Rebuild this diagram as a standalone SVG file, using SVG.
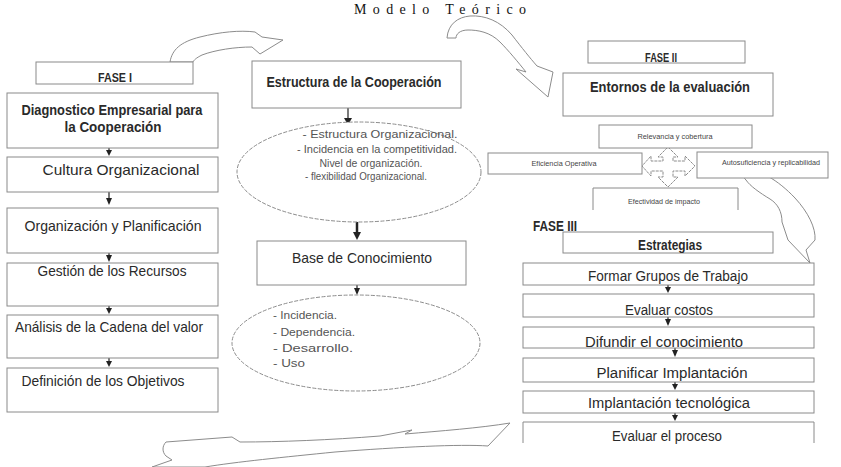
<svg xmlns="http://www.w3.org/2000/svg" width="841" height="467" viewBox="0 0 841 467">
<style>
.bx{fill:#fff;stroke:#8a8a8a;stroke-width:1}
.sd{fill:none;stroke:#8a8a8a;stroke-width:1}
.t{font-family:"Liberation Sans",Arial,sans-serif;fill:#2a2a2a}
.c{text-anchor:middle}
.b{font-weight:bold}
.m{font-size:15px}
.sm{font-size:11px;fill:#555}
.xs{font-size:8px;fill:#444}
.cv{fill:#fff;stroke:#8c8c8c;stroke-width:1;stroke-linejoin:round}
.el{fill:#fff;stroke:#8c8c8c;stroke-width:1;stroke-dasharray:4 1.5}
.ah{fill:#222}
.ln{stroke:#222;stroke-width:1.2}
</style>
<rect width="841" height="467" fill="#fff"/>
<text x="440" y="13.5" font-family="'Liberation Serif',serif" font-size="14" fill="#111" text-anchor="middle" textLength="172" lengthAdjust="spacing">Modelo Teórico</text>

<g id="connectors">
  <path class="cv" d="M170,62 C172,50 180,42 200,37 C220,32 240,30 255,32 L262,37 L283,40 L260,54 L252,47 C235,47 215,50 202,55 C196,58 194,60 193,62 Z"/>
  <path class="cv" d="M447,38 C448,24 458,17 470,16 C485,15 500,21 512,35 C522,48 530,58 537,66 L553,72 L548,97 L516,69 L526,72 C518,62 508,50 500,42 C490,32 478,30 468,30 C460,30 456,34 456,38 Z"/>
  <path class="cv" d="M745,171 C758,168 778,180 795,198 C808,212 816,228 815,240 L806,250 L810,263 L788,240 L782,222 C782,212 778,204 770,199 C760,193 750,186 746,180 C742,176 742,173 745,171 Z"/>
  <path class="cv" d="M510,423 C480,428 440,431 405,434 L412,430 L380,436 C330,440 280,442 240,442 L232,437 L166,442 C162,446 162,452 166,456 L172,460 L152,467 L205,467 C235,462 285,457 335,452 C400,447 460,444 488,446 Z"/>
  <path class="cv" d="M668,147 L678,157 L673,157 L673,161 L685,161 L685,156 L695,166 L685,176 L685,171 L673,171 L673,177 L678,177 L668,187 L658,177 L663,177 L663,171 L651,171 L651,176 L642,166 L651,156 L651,161 L663,161 L663,157 L658,157 Z" stroke-dasharray="3 1"/>
  <g>
    <line class="ln" x1="109" y1="148" x2="109" y2="151"/><path class="ah" d="M106,150 L112,150 L109,156 Z"/>
    <line class="ln" x1="109" y1="192" x2="109" y2="199"/><path class="ah" d="M106,198 L112,198 L109,205 Z"/>
    <line class="ln" x1="109" y1="253" x2="109" y2="256"/><path class="ah" d="M106,255 L112,255 L109,262 Z"/>
    <line class="ln" x1="109" y1="306" x2="109" y2="308"/><path class="ah" d="M106,308 L112,308 L109,314 Z"/>
    <line class="ln" x1="109" y1="358" x2="109" y2="361"/><path class="ah" d="M106,361 L112,361 L109,367 Z"/>
    <line class="ln" x1="348" y1="108" x2="348" y2="119"/><path class="ah" d="M344,118 L352,118 L348,125 Z"/>
    <line x1="357" y1="221" x2="357" y2="233" stroke="#222" stroke-width="2.5"/><path class="ah" d="M353,232 L361,232 L357,240 Z"/>
    <line class="ln" x1="357" y1="285" x2="357" y2="288"/><path class="ah" d="M354,288 L360,288 L357,295 Z"/>
    <line class="ln" x1="668" y1="285" x2="668" y2="288"/><path class="ah" d="M665,287 L671,287 L668,293 Z"/>
    <line class="ln" x1="668" y1="317" x2="668" y2="320"/><path class="ah" d="M665,319 L671,319 L668,326 Z"/>
    <line class="ln" x1="675" y1="348" x2="675" y2="351"/><path class="ah" d="M672,350 L678,350 L675,357 Z"/>
    <line class="ln" x1="675" y1="382" x2="675" y2="385"/><path class="ah" d="M672,384 L678,384 L675,390 Z"/>
    <line class="ln" x1="675" y1="413" x2="675" y2="416"/><path class="ah" d="M672,415 L678,415 L675,421 Z"/>
  </g>
</g>

<g id="fase1"><rect class="bx" x="36" y="62" width="157" height="22"/><text class="t b c" x="115" y="82" font-size="12" textLength="34" lengthAdjust="spacingAndGlyphs">FASE I</text></g>
<g id="diagnostico"><rect class="bx" x="7" y="93" width="211" height="55"/>
  <text class="t b c" x="112" y="115" font-size="14" textLength="181" lengthAdjust="spacingAndGlyphs">Diagnostico Empresarial para</text>
  <text class="t b c" x="113" y="132" font-size="14" textLength="97" lengthAdjust="spacingAndGlyphs">la Cooperación</text></g>
<g id="cultura"><rect class="bx" x="7" y="157" width="211" height="35"/><text class="t m c" x="121" y="175" textLength="157" lengthAdjust="spacingAndGlyphs">Cultura Organizacional</text></g>
<g id="organizacion"><rect class="bx" x="7" y="208" width="211" height="45"/><text class="t m c" x="113" y="231" textLength="177" lengthAdjust="spacingAndGlyphs">Organización y Planificación</text></g>
<g id="gestion"><rect class="bx" x="7" y="263" width="211" height="43"/><text class="t m c" x="112" y="276" textLength="149" lengthAdjust="spacingAndGlyphs">Gestión de los Recursos</text></g>
<g id="analisis"><rect class="bx" x="7" y="315" width="211" height="43"/><text class="t m c" x="109" y="332" textLength="188" lengthAdjust="spacingAndGlyphs">Análisis de la Cadena del valor</text></g>
<g id="definicion"><rect class="bx" x="7" y="368" width="211" height="44"/><text class="t m c" x="103" y="386" textLength="163" lengthAdjust="spacingAndGlyphs">Definición de los Objetivos</text></g>

<g id="estructura"><rect class="bx" x="252" y="61" width="209" height="47"/><text class="t b m c" x="354" y="87" textLength="175" lengthAdjust="spacingAndGlyphs">Estructura de la Cooperación</text></g>
<g id="elipse1"><ellipse class="el" cx="359" cy="172" rx="122" ry="50"/>
  <text class="t sm c" x="380" y="138" textLength="155" lengthAdjust="spacingAndGlyphs">- Estructura Organizacional.</text>
  <text class="t sm c" x="377" y="153" textLength="160" lengthAdjust="spacingAndGlyphs">- Incidencia en la competitividad.</text>
  <text class="t sm c" x="371" y="167" textLength="103" lengthAdjust="spacingAndGlyphs">Nivel de organización.</text>
  <text class="t sm c" x="366" y="180" textLength="122" lengthAdjust="spacingAndGlyphs">- flexibilidad Organizacional.</text></g>
<g id="base"><rect class="bx" x="257" y="241" width="209" height="44"/><text class="t m c" x="362" y="263" textLength="140" lengthAdjust="spacingAndGlyphs">Base de Conocimiento</text></g>
<g id="elipse2"><ellipse class="el" cx="356" cy="343" rx="124" ry="48"/>
  <text class="t sm" x="273" y="319" textLength="64" lengthAdjust="spacingAndGlyphs">- Incidencia.</text>
  <text class="t sm" x="273" y="336" textLength="82" lengthAdjust="spacingAndGlyphs">- Dependencia.</text>
  <text class="t sm" x="273" y="352" textLength="80" lengthAdjust="spacingAndGlyphs">- Desarrollo.</text>
  <text class="t sm" x="273" y="367" textLength="32" lengthAdjust="spacingAndGlyphs">- Uso</text></g>

<g id="fase2"><rect class="bx" x="588" y="41" width="157" height="22"/><text class="t b c" x="661" y="62" font-size="12" textLength="32" lengthAdjust="spacingAndGlyphs">FASE II</text></g>
<g id="entornos"><rect class="bx" x="563" y="73" width="210" height="43"/><text class="t b m c" x="670" y="92" textLength="160" lengthAdjust="spacingAndGlyphs">Entornos de la evaluación</text></g>
<g id="relevancia"><rect class="bx" x="599" y="125" width="153" height="23"/><text class="t xs c" x="675" y="139" textLength="75" lengthAdjust="spacingAndGlyphs">Relevancia y cobertura</text></g>
<g id="eficiencia"><rect class="bx" x="488" y="153" width="154" height="21"/><text class="t xs c" x="564" y="166" textLength="65" lengthAdjust="spacingAndGlyphs">Eficiencia Operativa</text></g>
<g id="autosuficiencia"><rect class="bx" x="697" y="152" width="131" height="26"/><text class="t xs c" x="771" y="165" textLength="98" lengthAdjust="spacingAndGlyphs">Autosuficiencia y replicabilidad</text></g>
<g id="efectividad"><path class="sd" d="M593,210 V188 H738 V210"/><text class="t xs c" x="664" y="204" textLength="72" lengthAdjust="spacingAndGlyphs">Efectividad de impacto</text></g>

<g id="fase3"><text class="t b" x="533" y="231" font-size="14" fill="#000" textLength="44" lengthAdjust="spacingAndGlyphs">FASE III</text></g>
<g id="estrategias"><rect class="bx" x="563" y="232" width="210" height="21"/><text class="t b c" x="670" y="250" font-size="14" textLength="64" lengthAdjust="spacingAndGlyphs">Estrategias</text></g>
<g id="formar"><rect class="bx" x="523" y="263" width="291" height="22"/><text class="t c" x="668" y="281" font-size="14" textLength="160" lengthAdjust="spacingAndGlyphs">Formar Grupos de Trabajo</text></g>
<g id="evaluar"><rect class="bx" x="523" y="294" width="291" height="23"/><text class="t c" x="669" y="315" font-size="14" textLength="88" lengthAdjust="spacingAndGlyphs">Evaluar costos</text></g>
<g id="difundir"><rect class="bx" x="523" y="327" width="291" height="21"/><text class="t c" x="664" y="347" font-size="14" textLength="158" lengthAdjust="spacingAndGlyphs">Difundir el conocimiento</text></g>
<g id="planificar"><rect class="bx" x="523" y="358" width="291" height="24"/><text class="t c" x="672" y="378" font-size="14" textLength="151" lengthAdjust="spacingAndGlyphs">Planificar Implantación</text></g>
<g id="implantacion"><rect class="bx" x="523" y="391" width="291" height="22"/><text class="t c" x="669" y="408" font-size="14" textLength="162" lengthAdjust="spacingAndGlyphs">Implantación tecnológica</text></g>
<g id="evaluarproceso"><path class="sd" d="M523,443 V422 H814 V443"/><text class="t c" x="667" y="441" font-size="14" textLength="110" lengthAdjust="spacingAndGlyphs">Evaluar el proceso</text></g>
</svg>
